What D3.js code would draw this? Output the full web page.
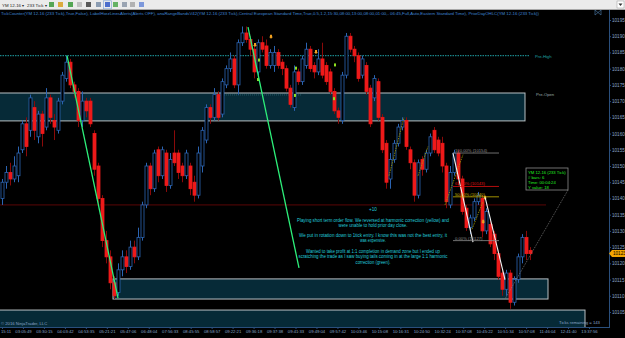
<!DOCTYPE html>
<html><head><meta charset="utf-8">
<script src="https://cdn.jsdelivr.net/npm/d3@7"></script>
<style>
body{margin:0;background:#000;overflow:hidden}
svg{display:block}
text{font-family:"Liberation Sans",Arial,sans-serif}
</style>
</head><body>
<svg id="c" width="625" height="338"></svg>
<script>
// ---------------- DATA ----------------
// candles: [open, high, low, close]  (YM 12-16, 233 tick)
const bars = [
[10140,10146,10138,10145],[10145,10150,10143,10148],[10148,10151,10144,10146],[10146,10153,10145,10150],
[10147,10156,10145,10154],[10155,10164,10154,10163],[10163,10165,10153,10156],[10161,10172,10159,10171],
[10168,10170,10158,10161],[10159,10167,10157,10166],[10166,10167,10156,10160],[10162,10174,10161,10171],
[10171,10172,10163,10165],[10164,10166,10158,10162],[10161,10171,10160,10170],[10170,10179,10169,10178],
[10177,10184,10176,10182],[10182,10183,10174,10175],[10175,10176,10171,10173],[10173,10174,10162,10164],
[10164,10173,10162,10170],[10170,10171,10165,10167],[10170,10171,10162,10163],[10160,10161,10147,10149],
[10150,10151,10138,10140],[10140,10141,10125,10127],[10127,10130,10120,10122],[10122,10124,10112,10114],
[10114,10116,10109,10110],[10111,10120,10110,10118],[10118,10124,10116,10122],[10122,10124,10117,10119],
[10119,10127,10118,10125],[10125,10127,10120,10122],[10122,10131,10121,10128],[10128,10139,10127,10138],
[10138,10151,10137,10150],[10150,10151,10141,10143],[10143,10155,10142,10154],[10155,10156,10145,10147],
[10147,10156,10146,10155],[10154,10155,10142,10144],[10144,10154,10143,10152],[10154,10161,10150,10151],
[10154,10155,10146,10148],[10150,10151,10145,10147],[10147,10155,10146,10154],[10150,10151,10141,10143],
[10145,10147,10139,10141],[10141,10156,10140,10154],[10150,10162,10148,10161],[10158,10169,10157,10168],
[10168,10169,10163,10165],[10165,10174,10164,10172],[10172,10173,10164,10165],[10166,10177,10165,10176],
[10175,10181,10174,10180],[10180,10185,10179,10183],[10183,10184,10174,10175],[10175,10189,10172,10188],
[10188,10193,10187,10191],[10191,10193,10188,10189],[10189,10190,10184,10186],[10186,10187,10177,10179],
[10179,10189,10178,10188],[10188,10190,10185,10186],[10187,10189,10180,10181],[10181,10186,10180,10185],
[10181,10187,10179,10185],[10185,10186,10180,10181],[10182,10183,10178,10180],[10180,10181,10173,10174],
[10174,10175,10168,10169],[10168,10181,10167,10179],[10179,10180,10175,10176],[10176,10184,10175,10183],
[10181,10188,10180,10186],[10186,10187,10179,10180],[10181,10182,10177,10179],[10179,10186,10178,10183],
[10183,10188,10177,10178],[10181,10182,10175,10176],[10179,10180,10172,10173],[10173,10174,10166,10167],
[10167,10168,10163,10165],[10164,10179,10163,10178],[10178,10191,10177,10190],[10190,10191,10185,10186],
[10186,10187,10182,10184],[10184,10185,10176,10177],[10178,10184,10177,10183],[10181,10182,10172,10173],
[10174,10175,10162,10163],[10171,10178,10170,10177],[10176,10177,10164,10165],[10165,10166,10154,10155],
[10157,10158,10143,10145],[10146,10154,10143,10152],[10152,10158,10151,10157],[10157,10163,10156,10162],
[10162,10165,10161,10164],[10164,10165,10155,10156],[10155,10156,10149,10151],[10151,10152,10139,10141],
[10141,10152,10140,10151],[10152,10153,10147,10149],[10149,10155,10148,10154],[10154,10160,10153,10159],
[10161,10162,10154,10155],[10158,10159,10153,10154],[10157,10159,10148,10150],[10150,10151,10137,10139],
[10138,10150,10137,10148],[10148,10155,10147,10154],[10154,10155,10144,10146],[10146,10147,10135,10136],
[10137,10138,10130,10131],[10131,10135,10129,10134],[10134,10140,10133,10139],[10139,10142,10138,10141],
[10140,10141,10128,10130],[10130,10137,10129,10136],[10132,10133,10125,10126],[10129,10130,10121,10123],
[10123,10124,10115,10116],[10117,10118,10110,10112],[10112,10118,10110,10117],[10117,10118,10106,10108],
[10108,10116,10107,10115],[10115,10123,10114,10122],[10122,10129,10120,10128],[10128,10130,10121,10123],
[10124,10125,10121,10123]
];
const priceTicks = [10105,10110,10115,10120,10125,10130,10135,10140,10145,10150,10155,10160,10165,10170,10175,10180,10185,10190,10195];
const timeLabels = ["15:11","03:05:49","03:30:15","04:03:42","04:53:35","05:21:21","05:47:06","06:48:04","07:56:33",
  "08:45:55","08:58:57","09:22:21","09:36:18","09:37:38","09:41:33","09:49:04","09:57:42","10:03:46","10:15:08",
  "10:16:31","10:24:50","10:32:24","10:37:08","10:45:22","10:51:34","10:57:08","11:46:04","12:41:40","13:37:56"];
// zones: price top/bottom, bar index start/end
const zoneTop    = [10172.5, 10115.2, 10105.6];
const zoneBottom = [10163.9, 10109.0, 10098.0];
const zoneStart  = [-1, 27.75, -1];
const zoneEnd    = [130.75, 136.5, 145.75];
const preHigh = 10184;
const priorClose = 10138;
const lastPrice = 10123;
// green harmonic legs [i0,p0,i1,p1]
const greenLegs = [[16.25,10184,29,10109.3],[61.5,10192.8,74.25,10118.6]];
const whiteLegs = [[112.75,10154,117.75,10126.5],[120.75,10140.5,125.75,10115]];
const oliveLegs = [[96.75,10147,100.5,10165],[104,10147,106.5,10156],[110.75,10138,115.25,10153.5],[117.5,10130.5,120.25,10139]];
const fibPct   = ["100.00%","61.80%","50.00%","0.00%"];
const fibPrice = [10154,10143.7,10140.5,10127];
const fibColor = ["#8c8c8c","#e01010","#c8b400","#8c8c8c"];
const orangeMarks = [[63.25,10187.3],[67.25,10189.8],[78.5,10185.1],[120.75,10140.2],[120.3,10132.8]];
const greenMarks = [[64,10176.5],[64.25,10182.5],[73.25,10171.6],[73.5,10180],[83,10170.6],[83.25,10181]];
const notes = [
 "Playing short term order flow.  We reversed at harmonic correction (yellow) and",
 "were unable to hold prior day close.",
 "We put in rotation down to 1tick entry.  I know this was not the best entry, it",
 "was expensive.",
 "Wanted to take profit at 1:1 completion in demand zone but I ended up",
 "scratching the trade as I saw buying tails coming in at the large 1:1 harmonic",
 "correction (green)."
];
const noteWidths = [152,69,148,26,134,149,35];
const infoLines = ["YM 12-16 (233 Tick)","# bars:  6","Time:      00:04:24","Y value:  18"];
const title = "TickCounter(YM 12-16 (233 Tick),True,False), LabelHorzLinesAlerts(Alerts OFF), anaRangeBandsV42(YM 12-16 (233 Tick),Central European Standard Time,True,0.5,1.2,15:30,08:00,13:00,08:00,01:00,- 06:45,Full,Auto,Eastern Standard Time), PriorDayOHLC(YM 12-16 (233 Tick))";

// ---------------- DRAW ----------------
const svg = d3.select("#c");
const W = 625, H = 338;
const y = d3.scaleLinear().domain([10105,10195]).range([312,20]);
const x = d3.scaleLinear().domain([0,bars.length-1]).range([2,530]);
const bw = 3;

svg.append("rect").attr("width",W).attr("height",H).attr("fill","#000");
svg.append("defs").append("clipPath").attr("id","clip")
  .append("rect").attr("x",0).attr("y",10).attr("width",609).attr("height",317);

const g = svg.append("g").attr("clip-path","url(#clip)");

// zones
zoneTop.forEach((t,i)=>{
  g.append("rect").attr("x",x(zoneStart[i])).attr("y",y(t))
   .attr("width",x(zoneEnd[i])-x(zoneStart[i])).attr("height",y(zoneBottom[i])-y(t))
   .attr("fill","#062a37").attr("stroke","#b8c0c4").attr("stroke-width",1);
});

// prior close (dark red)
g.append("line").attr("x1",0).attr("x2",x(136)).attr("y1",y(priorClose)).attr("y2",y(priorClose))
 .attr("stroke","#5a0606").attr("stroke-width",1);
// pre-high dotted
g.append("line").attr("x1",0).attr("x2",x(132)).attr("y1",y(preHigh)).attr("y2",y(preHigh))
 .attr("stroke","#1fa3a8").attr("stroke-width",1).attr("stroke-dasharray","1.5,1");
// pre-open dotted faint
g.append("line").attr("x1",x(54)).attr("x2",x(75)).attr("y1",y(10171.9)).attr("y2",y(10171.9))
 .attr("stroke","#2a6670").attr("stroke-width",0.8).attr("stroke-dasharray","1,1");
g.append("text").attr("x",535).attr("y",y(preHigh)+2).attr("font-size",4.2).attr("fill","#1fa3a8").text("Pre-High");
g.append("text").attr("x",536).attr("y",y(zoneTop[0])+3).attr("font-size",4.2).attr("fill","#9aa").text("Pre-Open");

// candles
const c = g.selectAll("g.bar").data(bars).join("g");
c.append("line")
 .attr("x1",(d,i)=>x(i)+0.5).attr("x2",(d,i)=>x(i)+0.5)
 .attr("y1",d=>y(d[1])).attr("y2",d=>y(d[2]))
 .attr("stroke",d=>d[3]>=d[0]?"#2b64b2":"#8a0a0a").attr("stroke-width",1);
c.append("rect")
 .attr("x",(d,i)=>x(i)-1).attr("width",bw)
 .attr("y",d=>y(Math.max(d[0],d[3])))
 .attr("height",d=>Math.max(1,Math.abs(y(d[0])-y(d[3]))))
 .attr("fill",d=>d[3]>=d[0]?"#000":"#ee1a1a")
 .attr("stroke",d=>d[3]>=d[0]?"#2b64b2":"#ee1a1a").attr("stroke-width",0.8);

// markers
orangeMarks.forEach(m=>{
  g.append("path").attr("d",`M${x(m[0])-1},${y(m[1])-2}h2v2h1l-2,2l-2,-2h1z`).attr("fill","#f0a020");
});
greenMarks.forEach(m=>{
  g.append("rect").attr("x",x(m[0])-1).attr("y",y(m[1])-2).attr("width",2).attr("height",3).attr("fill","#8ee020");
});

// legs
const legLine = (arr,color,w,dash)=>arr.forEach(l=>{
  g.append("line").attr("x1",x(l[0])).attr("y1",y(l[1])).attr("x2",x(l[2])).attr("y2",y(l[3]))
   .attr("stroke",color).attr("stroke-width",w).attr("stroke-dasharray",dash);
});
legLine(greenLegs,"#2df07a",1.3,null);
legLine(oliveLegs,"#a8a000",0.8,"1.5,1");
legLine(whiteLegs,"#f4f4f4",1.1,null);

// fib levels
fibPrice.forEach((p,i)=>{
  g.append("line").attr("x1",x(112.75)).attr("x2",x(124.25)).attr("y1",y(p)).attr("y2",y(p))
   .attr("stroke",fibColor[i]).attr("stroke-width",0.8);
  g.append("text").attr("x",x(113.25)).attr("y",y(p)-1).attr("font-size",4.2)
   .attr("fill",fibColor[i]).text(`${fibPct[i]} (${Math.floor(p)})`);
});

// info box + dotted leader
g.append("line").attr("x1",568).attr("y1",190).attr("x2",x(125.75)).attr("y2",y(10109))
 .attr("stroke","#8a8a8a").attr("stroke-width",0.7).attr("stroke-dasharray","1,1");
g.append("rect").attr("x",526).attr("y",168).attr("width",42).attr("height",22)
 .attr("fill","#000").attr("stroke","#8a8a8a").attr("stroke-width",0.8);
infoLines.forEach((t,i)=>{
  g.append("text").attr("x",528).attr("y",173.5+i*5).attr("font-size",4.2).attr("fill","#22ee22").text(t);
});

// annotation
g.append("text").attr("x",373).attr("y",210.5).attr("text-anchor","middle").attr("font-size",4.6).attr("fill","#22ccdd").text("+10");
const noteY = [222,227,236.5,242,253,258,263.5];
notes.forEach((t,i)=>{
  g.append("text").attr("x",373-noteWidths[i]/2).attr("y",noteY[i]).attr("font-size",4.6)
   .attr("textLength",noteWidths[i]).attr("lengthAdjust","spacingAndGlyphs")
   .attr("fill","#22ccdd").text(t);
});

// bottom texts
g.append("text").attr("x",1).attr("y",325).attr("font-size",4.2).attr("fill","#8aa6c8").text("© 2016 NinjaTrader, LLC");
g.append("text").attr("x",559).attr("y",324).attr("font-size",4.2).attr("fill","#8aa6c8").text("Ticks remaining = 143");

// right axis
const ax = svg.append("g").attr("transform","translate(609,0)")
  .call(d3.axisRight(y).tickValues(priceTicks).tickSize(2).tickFormat(d3.format("d")));
ax.select(".domain").remove();
ax.selectAll("line").attr("stroke","#2a4f7c");
ax.selectAll("text").attr("fill","#8aa6c8").attr("font-size",4.6).attr("x",3).attr("font-family","Liberation Sans");
svg.append("line").attr("x1",609.5).attr("x2",609.5).attr("y1",10).attr("y2",327).attr("stroke","#2a4f7c");

// bottom axis
const tx = d3.scaleLinear().domain([0,timeLabels.length-1]).range([2,589]);
const bx = svg.append("g").attr("transform","translate(0,327)")
  .call(d3.axisBottom(tx).tickValues(d3.range(timeLabels.length)).tickSize(2).tickFormat(i=>timeLabels[i]));
bx.select(".domain").remove();
bx.selectAll("line").attr("stroke","#2a4f7c");
bx.selectAll("text").attr("fill","#8aa6c8").attr("font-size",4.2).attr("y",3.5).attr("font-family","Liberation Sans");
bx.selectAll("text").filter((d,i)=>i===0).attr("text-anchor","start").attr("x",-1.5);
svg.append("line").attr("x1",0).attr("x2",610).attr("y1",327.5).attr("y2",327.5).attr("stroke","#2a4f7c");

// last price marker
const ly = y(lastPrice);
svg.append("path").attr("d",`M609,${ly}l3,-3.5h13v7h-13z`).attr("fill","#f2a400");
svg.append("text").attr("x",613).attr("y",ly+1.7).attr("font-size",4.6).attr("fill","#000").text(lastPrice);

// title
svg.append("text").attr("x",1).attr("y",14.5).attr("font-size",4.4).attr("fill","#3f86d6")
  .attr("textLength",538).attr("lengthAdjust","spacingAndGlyphs").text(title);
// collapse icon
svg.append("path").attr("d","M595,10v5l3,-2.5zM601,10v5l-3,-2.5z").attr("fill","none").attr("stroke","#4f7fb0").attr("stroke-width",0.6);

// toolbar
svg.append("rect").attr("x",0).attr("y",0).attr("width",W).attr("height",9.5).attr("fill","#ebebeb");
svg.append("line").attr("x1",0).attr("x2",W).attr("y1",9.5).attr("y2",9.5).attr("stroke","#a8a8a8");
svg.append("text").attr("x",2).attr("y",6.8).attr("font-size",4.4).attr("fill","#222").text("YM 12-16 ▾");
svg.append("text").attr("x",27).attr("y",6.8).attr("font-size",4.4).attr("fill","#222").text("233 Tick ▾");
const icons = [[49,"#3c9a3c"],[58,"#d8a020"],[68,"#3a9a3a"],[77,"#b8b8b8"],[86,"#404040"],[96,"#7a8ea8"],[105,"#3058c8"],[113,"#4ea84e"],[122,"#8c98a8"],[130,"#a8a8a8"],[139,"#6a8ad8"]];
icons.forEach(ic=>{
  svg.append("rect").attr("x",ic[0]).attr("y",2).attr("width",5).attr("height",5).attr("fill",ic[1]).attr("opacity",0.85);
});
svg.append("rect").attr("x",103.5).attr("y",0.8).attr("width",8).attr("height",8).attr("fill","none").attr("stroke","#7aa0d8").attr("stroke-width",0.6);
svg.append("rect").attr("x",617).attr("y",1).attr("width",7).attr("height",7).attr("fill","#fff").attr("stroke","#999").attr("stroke-width",0.5);
svg.append("path").attr("d","M618.5,3.5h4l-2,2.5z").attr("fill","#333");
</script>
</body></html>
